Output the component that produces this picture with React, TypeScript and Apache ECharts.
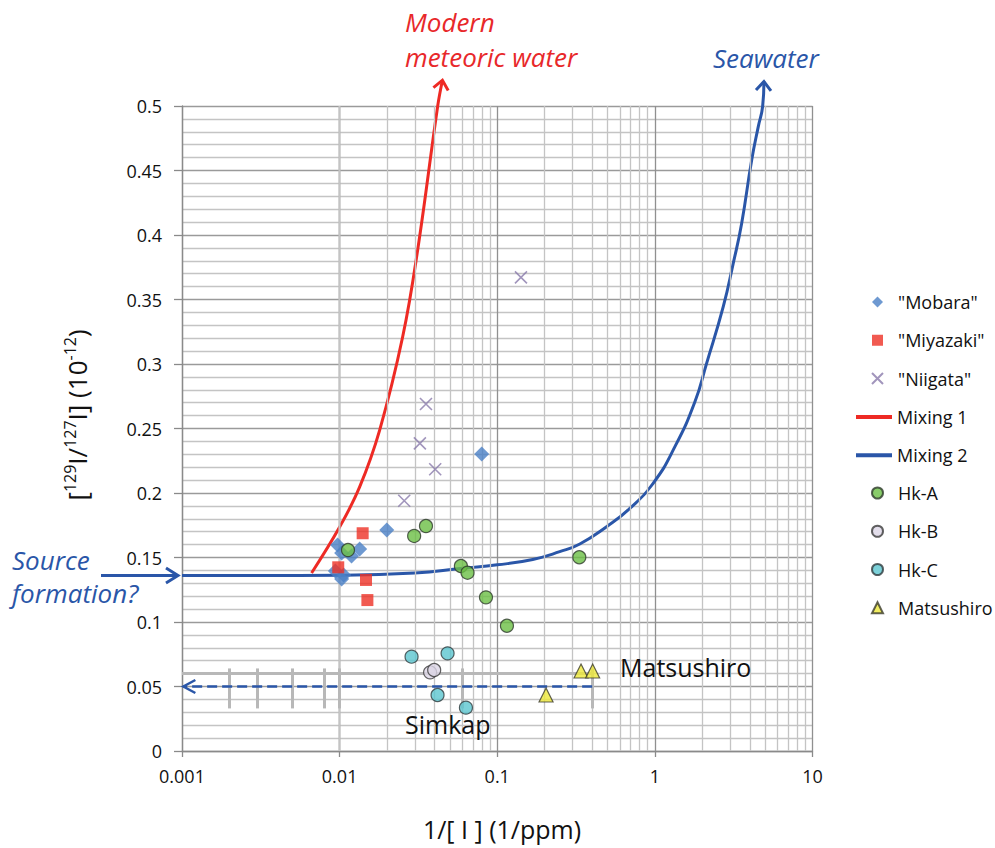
import React, { useEffect, useRef } from "react";
import * as echarts from "echarts";

const FONT = "'Open Sans', 'Noto Sans', sans-serif";

// tick labels
const xTickLabels = ["0.001", "0.01", "0.1", "1", "10"];

// data: [1/[I] (1/ppm), 129I/127I (1e-12)]
const mobara: [number, number][] = [
  [0.0097, 0.1597], [0.0103, 0.1535], [0.0119, 0.1512], [0.0134, 0.1566],
  [0.0094, 0.1395], [0.0106, 0.1364], [0.0103, 0.1333], [0.0199, 0.1713], [0.0797, 0.2302],
];
const miyazaki: [number, number][] = [
  [0.014, 0.1688], [0.0098, 0.1424], [0.0147, 0.1326], [0.015, 0.117],
];
const niigata: [number, number][] = [
  [0.1414, 0.3672], [0.0353, 0.269], [0.0323, 0.2385], [0.0404, 0.2184], [0.0257, 0.194],
];
const mixing1: [number, number][] = [
  [0.00664, 0.138], [0.01, 0.1736], [0.0134, 0.2047], [0.01795, 0.2488],
  [0.0251, 0.3209], [0.03127, 0.3884], [0.0419, 0.5], [0.0449, 0.52],
];
const mixing2: [number, number][] = [
  [0.001, 0.136], [0.003, 0.136], [0.01, 0.1362], [0.03, 0.138], [0.0604, 0.1417],
  [0.1, 0.1443], [0.168, 0.1485], [0.249, 0.1545], [0.334, 0.1605], [0.494, 0.1739],
  [0.694, 0.1881], [0.975, 0.2075], [1.34, 0.2359], [1.795, 0.2708], [2.129, 0.3005],
  [2.715, 0.3444], [3.141, 0.378], [3.552, 0.409], [4.111, 0.458], [4.529, 0.484],
  [4.83, 0.5], [4.92, 0.519],
];
const hkA: [number, number][] = [
  [0.0113, 0.1558], [0.0297, 0.1667], [0.0353, 0.1744], [0.0588, 0.1434],
  [0.0648, 0.1382], [0.0848, 0.1191], [0.1152, 0.0971], [0.3316, 0.1502],
];
const hkB: [number, number][] = [[0.0375, 0.061], [0.0398, 0.0628]];
const hkC: [number, number][] = [
  [0.0286, 0.0731], [0.0484, 0.0757], [0.0418, 0.0434], [0.0633, 0.0336],
];
const matsushiro: [number, number][] = [[0.34, 0.062], [0.403, 0.062], [0.204, 0.0434]];

// Simkap range annotation
const simkapArrow: [number, number][] = [[0.4, 0.05], [0.00102, 0.05]];
const simkapBar: [number, number][] = [[0.001, 0.06], [0.4, 0.06]];
const simkapTicksX = [0.002, 0.003, 0.005, 0.008, 0.01, 0.06, 0.4];
const simkapTickRange = [0.033, 0.064];
const sourceLevel = 0.136;

const BLUE = "#2a56a8";
const RED = "#ee2a24";
const XPATH = "path://M0,0L10,10M10,0L0,10";

export default function App() {
  const ref = useRef<HTMLDivElement>(null);
  useEffect(() => {
    if (!ref.current) return;
    const chart = echarts.init(ref.current, undefined, { renderer: "svg" });

    const xMinor: number[] = [];
    [0.001, 0.01, 0.1, 1].forEach((d) => {
      for (let k = 2; k <= 9; k++) xMinor.push(+(d * k).toPrecision(3));
    });

    const legendText = { fontSize: 18, lineHeight: 18, color: "#111", fontFamily: FONT };
    const symLegend = (top: number, data: any[]) => ({
      orient: "vertical",
      left: 866,
      top,
      itemWidth: 11,
      itemHeight: 11,
      itemGap: 20.25,
      textStyle: { ...legendText, padding: [0, 0, 0, 10] },
      data,
    });

    const scatterBase = { type: "scatter", z: 5 };
    const option: any = {
      animation: false,
      backgroundColor: "#ffffff",
      textStyle: { fontFamily: FONT },
      grid: { left: 182, right: 182.5, top: 106, bottom: 97 },
      legend: [
        symLegend(288, [
          { name: '"Mobara"', icon: "diamond" },
          { name: '"Miyazaki"', icon: "rect" },
          { name: '"Niigata"', icon: XPATH },
        ]),
        {
          orient: "vertical",
          left: 851,
          top: 403,
          itemWidth: 36,
          itemHeight: 4,
          itemGap: 20.25,
          textStyle: legendText,
          data: [
            { name: "Mixing 1", icon: "rect" },
            { name: "Mixing 2", icon: "rect" },
          ],
        },
        symLegend(479, [
          { name: "Hk-A", icon: "circle" },
          { name: "Hk-B", icon: "circle" },
          { name: "Hk-C", icon: "circle" },
          { name: "Matsushiro", icon: "triangle" },
        ]),
      ],
      xAxis: {
        type: "log",
        logBase: 10,
        min: 0.001,
        max: 10,
        axisLine: { show: true, onZero: false, lineStyle: { color: "#8a8a8a", width: 1.3 } },
        axisTick: { show: true, length: 6, lineStyle: { color: "#8a8a8a", width: 1.3 } },
        axisLabel: {
          fontSize: 18,
          color: "#111",
          margin: 16,
          fontFamily: FONT,
          formatter: (v: number) => xTickLabels[Math.round(Math.log10(v)) + 3],
        },
        splitLine: { show: true, lineStyle: { color: "#909090", width: 1.3 } },
      },
      yAxis: {
        type: "value",
        min: 0,
        max: 0.5,
        interval: 0.05,
        axisLine: { show: true, lineStyle: { color: "#8a8a8a", width: 1.3 } },
        axisTick: { show: true, length: 8, lineStyle: { color: "#8a8a8a", width: 1.3 } },
        axisLabel: { fontSize: 18, color: "#111", margin: 20, fontFamily: FONT },
        splitLine: { show: true, lineStyle: { color: "#9a9a9a", width: 1.3 } },
        minorTick: { show: false, splitNumber: 5 },
        minorSplitLine: { show: true, lineStyle: { color: "#c4c4c4", width: 1.3 } },
      },
      series: [
        {
          type: "line",
          name: "__minorgrid",
          data: [],
          silent: true,
          z: 1,
          markLine: {
            silent: true,
            symbol: ["none", "none"],
            label: { show: false },
            lineStyle: { color: "#c4c4c4", width: 1.3, type: "solid" },
            data: xMinor.map((v) => ({ xAxis: v })),
          },
        },
        {
          type: "line",
          name: "__simkap",
          data: [],
          silent: true,
          z: 2,
          markLine: {
            silent: true,
            symbol: ["none", "none"],
            label: { show: false },
            data: [
              [
                { coord: simkapBar[0], lineStyle: { color: "#b8b8b8", width: 3, type: "solid" } },
                { coord: simkapBar[1], lineStyle: { color: "#b8b8b8", width: 3, type: "solid" } },
              ],
              ...simkapTicksX.map((x) => [
                { coord: [x, simkapTickRange[0]], lineStyle: { color: "#b8b8b8", width: 3, type: "solid" } },
                { coord: [x, simkapTickRange[1]], lineStyle: { color: "#b8b8b8", width: 3, type: "solid" } },
              ]),
              [
                { coord: simkapArrow[0], lineStyle: { color: BLUE, width: 2.5, type: [10, 5] } },
                { coord: simkapArrow[1], lineStyle: { color: BLUE, width: 2.5, type: [10, 5] } },
              ],
            ],
          },
        },
        { ...scatterBase, name: '"Mobara"', data: mobara, symbol: "diamond", symbolSize: 15, itemStyle: { color: "#4a7fc6" } },
        { ...scatterBase, name: '"Miyazaki"', data: miyazaki, symbol: "rect", symbolSize: 12, itemStyle: { color: "#ee3126" } },
        {
          ...scatterBase,
          name: '"Niigata"',
          data: niigata,
          symbol: XPATH,
          symbolSize: 12,
          itemStyle: { color: "rgba(0,0,0,0)", borderColor: "#8a7bab", borderWidth: 1.6 },
        },
        {
          type: "line",
          name: "Mixing 1",
          data: mixing1,
          symbol: "none",
          clip: false,
          smooth: 0.4,
          z: 4,
          itemStyle: { color: RED },
          lineStyle: { color: RED, width: 3 },
        },
        {
          type: "line",
          name: "Mixing 2",
          data: mixing2,
          symbol: "none",
          clip: false,
          smooth: 0.5,
          z: 4,
          itemStyle: { color: BLUE },
          lineStyle: { color: BLUE, width: 3 },
        },
        { ...scatterBase, name: "Hk-A", data: hkA, symbol: "circle", symbolSize: 13, itemStyle: { color: "#6cbf45", borderColor: "#2d3a2a", borderWidth: 1.2 } },
        { ...scatterBase, name: "Hk-B", data: hkB, symbol: "circle", symbolSize: 13, itemStyle: { color: "#dcd6e6", borderColor: "#3a3a3a", borderWidth: 1.2 } },
        { ...scatterBase, name: "Hk-C", data: hkC, symbol: "circle", symbolSize: 13, itemStyle: { color: "#5bc6cf", borderColor: "#2e3a3c", borderWidth: 1.2 } },
        { ...scatterBase, name: "Matsushiro", data: matsushiro, symbol: "triangle", symbolSize: 14, itemStyle: { color: "#eee83a", borderColor: "#3a3a2a", borderWidth: 1.2 } },
      ],
    };
    chart.setOption(option);

    const px = (p: [number, number]) => chart.convertToPixel({ gridIndex: 0 } as any, p) as number[];
    const chevron = (tip: number[], from: number[], len: number, half: number, color: string, width: number) => {
      const dx = tip[0] - from[0];
      const dy = tip[1] - from[1];
      const L = Math.hypot(dx, dy) || 1;
      const ux = dx / L, uy = dy / L;
      const nx = -uy, ny = ux;
      const bx = tip[0] - ux * len, by = tip[1] - uy * len;
      return {
        type: "polyline",
        z: 100,
        shape: { points: [[bx + nx * half, by + ny * half], [tip[0], tip[1]], [bx - nx * half, by - ny * half]] },
        style: { stroke: color, lineWidth: width, fill: null, lineJoin: "miter" },
      };
    };

    const redTip = px(mixing1[mixing1.length - 1]);
    const redPrev = px(mixing1[mixing1.length - 2]);
    const blueTip = px(mixing2[mixing2.length - 1]);
    const bluePrev = px(mixing2[mixing2.length - 2]);
    const skTip = px(simkapArrow[1]);
    const skFrom = px(simkapArrow[0]);
    const srcY = px([0.001, sourceLevel])[1];
    const axisX = px([0.001, sourceLevel])[0];

    const txt = (text: string, x: number, y: number, size: number, color: string, italic: boolean, align = "left") => ({
      type: "text",
      x,
      y,
      z: 100,
      style: {
        text,
        fill: color,
        fontSize: size,
        fontStyle: italic ? "italic" : "normal",
        fontFamily: FONT,
        align,
        verticalAlign: "middle",
        lineHeight: Math.round(size * 1.05),
      },
    });

    chart.setOption({
      graphic: [
        chevron(redTip, redPrev, 9, 7.5, RED, 3),
        chevron(blueTip, bluePrev, 9, 7.5, BLUE, 3),
        chevron(skTip, skFrom, 12, 6.5, BLUE, 2.5),
        {
          type: "line",
          z: 100,
          shape: { x1: 101, y1: srcY, x2: axisX - 5, y2: srcY },
          style: { stroke: BLUE, lineWidth: 3 },
        },
        chevron([axisX - 4, srcY], [101, srcY], 12, 7.5, BLUE, 3),
        txt("Modern", 405, 22, 26, "#e8282a", true),
        txt("meteoric water", 405, 57, 26, "#e8282a", true),
        txt("Seawater", 713, 58, 26, BLUE, true),
        txt("Source", 12, 560, 26, BLUE, true),
        txt("formation?", 12, 593, 26, BLUE, true),
        txt("Matsushiro", 620, 667, 25, "#111", false),
        txt("Simkap", 405, 724, 25, "#111", false),
        txt("1/[ I ] (1/ppm)", 502, 829, 25, "#111", false, "center"),
        {
          type: "text",
          x: 77,
          y: 415,
          rotation: Math.PI / 2,
          z: 100,
          style: {
            text: "[{sup|129}I/{sup|127}I] ({base|10}{sup|-12})",
            fill: "#111",
            fontSize: 26,
            fontFamily: FONT,
            align: "center",
            verticalAlign: "middle",
            lineHeight: 30,
            rich: {
              sup: { fontSize: 16, fontFamily: FONT, fill: "#111", verticalAlign: "top", lineHeight: 30 },
              base: { fontSize: 26, fontFamily: FONT, fill: "#111", lineHeight: 30 },
            },
          },
        },
      ],
    });

    return () => chart.dispose();
  }, []);

  return <div ref={ref} style={{ position: "fixed", left: 0, top: 0, width: 995, height: 848, background: "#fff" }} />;
}
